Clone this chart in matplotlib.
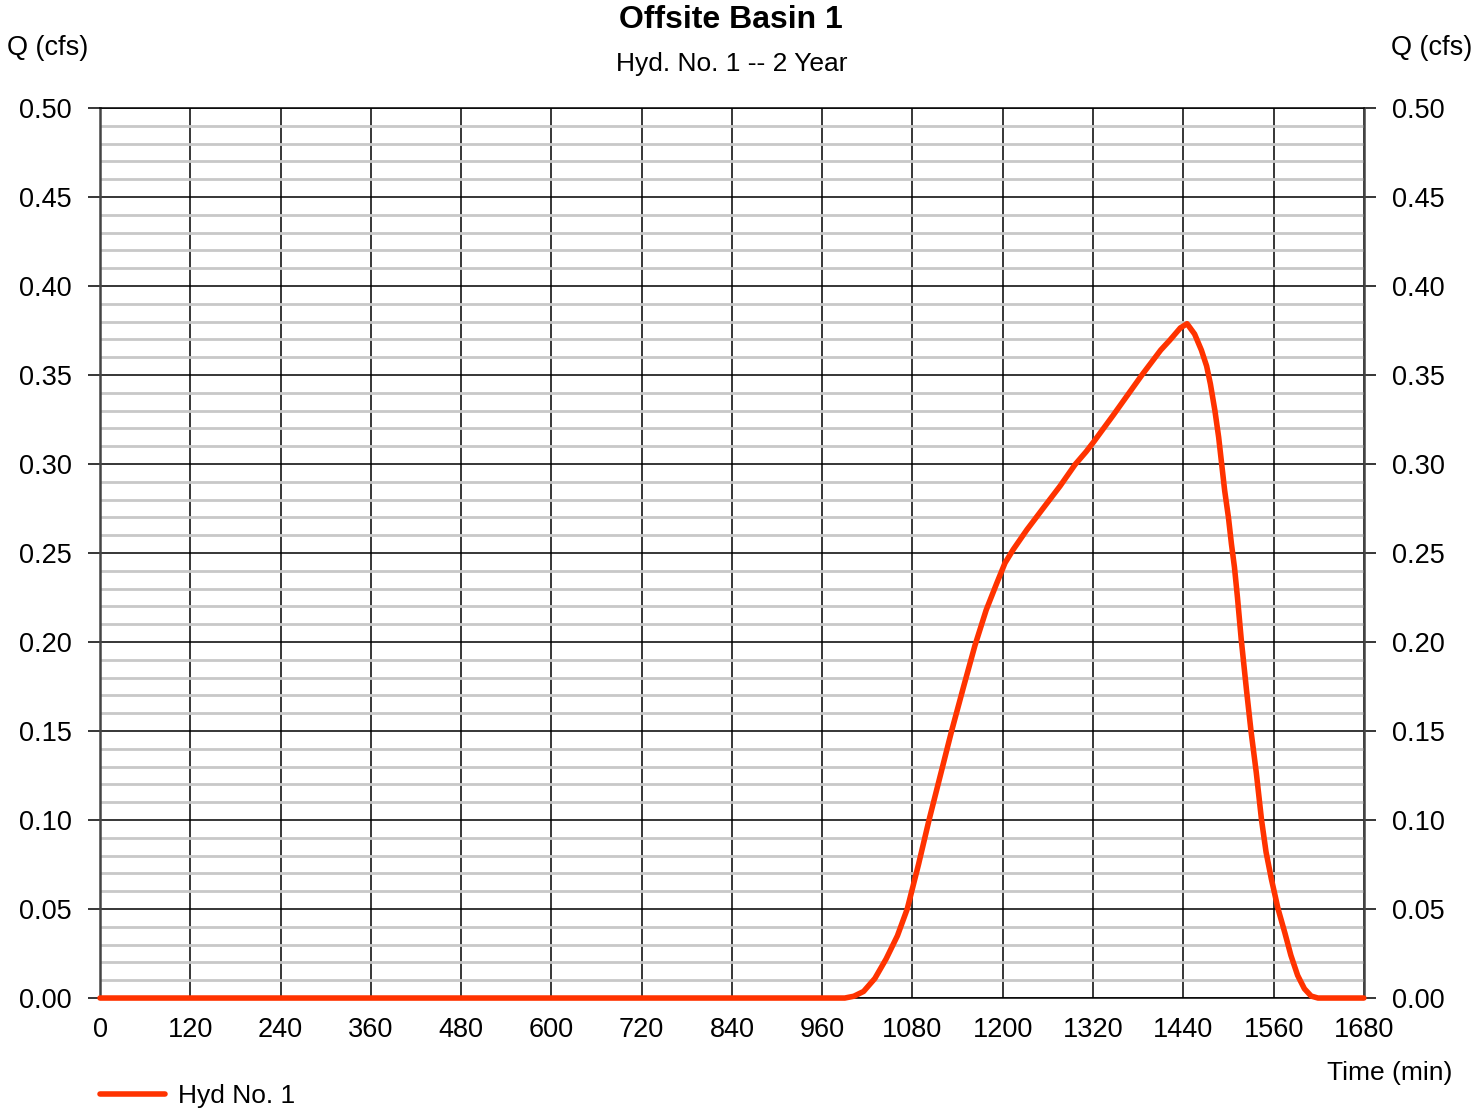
import matplotlib
matplotlib.use('Agg')
import matplotlib.pyplot as plt
from matplotlib.ticker import MultipleLocator

plt.rcParams['font.family'] = ['Liberation Sans', 'DejaVu Sans']

# Hydrograph ordinates (time in min, flow in cfs)
times = [0, 990, 1002, 1015, 1030, 1045, 1060, 1073, 1088, 1102, 1117, 1132, 1148, 1163,
         1178, 1192, 1203, 1214, 1232, 1254, 1276, 1296, 1311, 1321, 1347, 1385, 1410,
         1422, 1436, 1445, 1455, 1464, 1471, 1476, 1482, 1487, 1491, 1495, 1500, 1504,
         1508, 1512, 1517, 1524, 1530, 1537, 1544, 1550, 1557, 1566, 1575, 1583, 1592,
         1601, 1610, 1619, 1680]
flows = [0, 0, 0.001, 0.0037, 0.011, 0.022, 0.035, 0.05, 0.075, 0.10, 0.125, 0.15, 0.175, 0.198,
         0.218, 0.233, 0.2444, 0.252, 0.263, 0.2753, 0.2875, 0.2996, 0.307, 0.3125, 0.3275, 0.35, 0.364,
         0.3695, 0.3764, 0.3788, 0.373, 0.364, 0.355, 0.345, 0.330, 0.315, 0.300, 0.285, 0.270, 0.255,
         0.242, 0.225, 0.2015, 0.173, 0.15, 0.1267, 0.10, 0.082, 0.067, 0.05, 0.0366, 0.024, 0.0127,
         0.0052, 0.0011, 0, 0]

title = "Offsite Basin 1"
subtitle = "Hyd. No. 1 -- 2 Year"
series_name = "Hyd No. 1"
line_color = '#ff3300'

fig = plt.figure(figsize=(14.73, 11.14), dpi=100)
ax = fig.add_axes([0.0679, 0.1041, 0.858, 0.799])

ax.set_xlim(0, 1680)
ax.set_ylim(0, 0.5)
ax.xaxis.set_major_locator(MultipleLocator(120))
ax.yaxis.set_major_locator(MultipleLocator(0.05))
ax.yaxis.set_minor_locator(MultipleLocator(0.01))
ax.yaxis.set_major_formatter(lambda v, p: f"{v:.2f}")

ax.grid(which='minor', axis='y', color='#c8c8c8', linewidth=2.0)
ax.grid(which='major', axis='both', color='black', linewidth=1.1)
ax.set_axisbelow(True)

for side in ['left', 'right']:
    ax.spines[side].set_color('#444444')
    ax.spines[side].set_linewidth(1.8)
for side in ['top', 'bottom']:
    ax.spines[side].set_color('black')
    ax.spines[side].set_linewidth(1.1)

ax.tick_params(axis='y', which='major', direction='out', length=8.6, width=1.1,
               labelsize=19.5, pad=11.5, left=True, right=True, labelleft=True, labelright=True)
ax.tick_params(axis='y', which='minor', length=0)
ax.tick_params(axis='x', which='major', length=0, labelsize=19.5, pad=14)

line, = ax.plot(times, flows, color=line_color, linewidth=4.0, clip_on=False,
                solid_joinstyle='round', solid_capstyle='round', zorder=5)

fig.text(0.4965, 0.982, title, ha='center', va='center', fontsize=23, fontweight='bold')
fig.text(0.4965, 0.9425, subtitle, ha='center', va='center', fontsize=19)
fig.text(0.005, 0.957, "Q (cfs)", ha='left', va='center', fontsize=19.5)
fig.text(0.9995, 0.957, "Q (cfs)", ha='right', va='center', fontsize=19.5)
fig.text(0.986, 0.037, "Time (min)", ha='right', va='center', fontsize=19)

fig.legend([line], [series_name], loc='center left', bbox_to_anchor=(0.0517, 0.016),
           frameon=False, fontsize=19, handlelength=2.46, handletextpad=0.5)

fig.savefig('out.png', dpi=100)
